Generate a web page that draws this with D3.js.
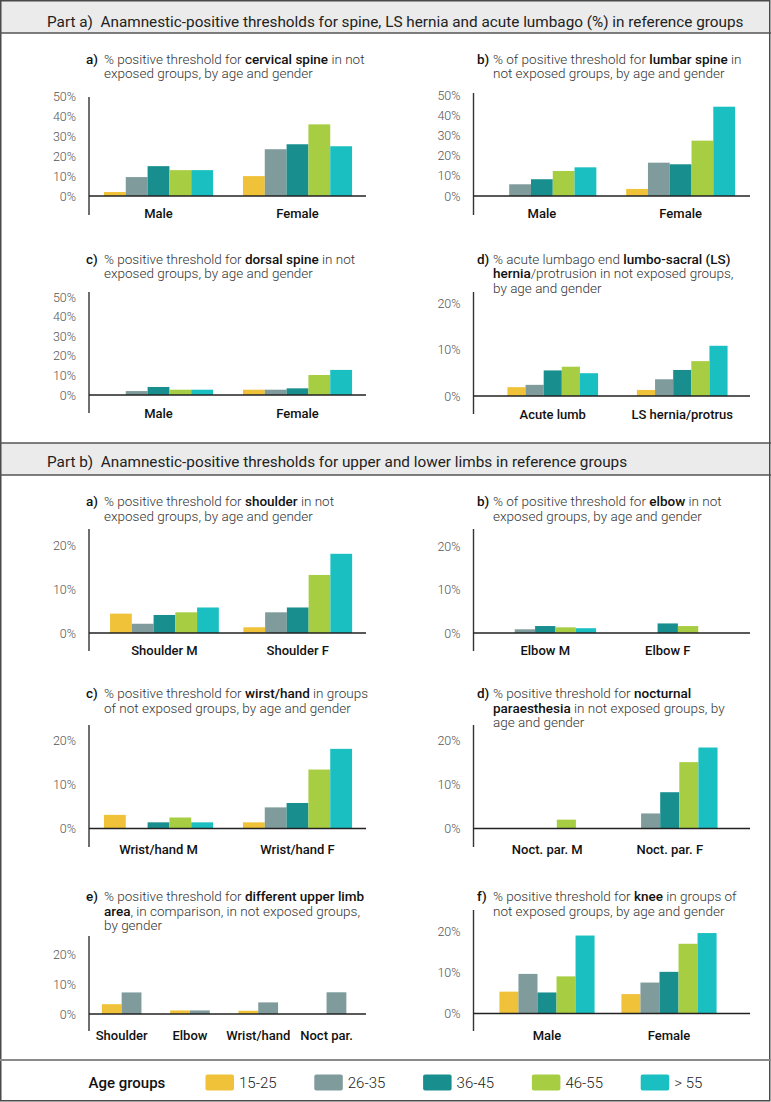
<!DOCTYPE html>
<html><head><meta charset="utf-8">
<script src="https://cdn.jsdelivr.net/npm/d3@7"></script>
<style>
body{margin:0;background:#fff}
svg{display:block;font-family:Roboto,"Noto Sans",sans-serif}
text{white-space:pre}
</style>
</head><body>
<svg id="chart" width="771" height="1102"></svg>
<script>
// ---------- DATA ----------
const ageGroups = ["15-25", "26-35", "36-45", "46-55", "> 55"];
const ageColors = ["#f0c23a", "#7f9b9b", "#188f8e", "#a7ce43", "#1abfc1"];

const spineTicks = [0, 10, 20, 30, 40, 50];
const limbTicks = [0, 10, 20];

const genderCats = ["Male", "Female"];
const cervicalVals = [[2, 9.5, 15, 13, 13], [10, 23.5, 26, 36, 25]];
const lumbarVals = [[0, 5.8, 8.3, 12.4, 14.2], [3.5, 16.5, 15.7, 27.4, 44.2]];
const dorsalVals = [[0, 2, 4.1, 2.7, 2.7], [2.7, 2.7, 3.4, 10.2, 12.8]];

const lumbagoCats = ["Acute lumb", "LS hernia/protrus"];
const lumbagoVals = [[1.9, 2.4, 5.5, 6.3, 4.9], [1.3, 3.6, 5.6, 7.5, 10.8]];

const shoulderCats = ["Shoulder M", "Shoulder F"];
const shoulderVals = [[4.4, 2.1, 4.1, 4.7, 5.8], [1.3, 4.7, 5.8, 13.2, 18]];

const elbowCats = ["Elbow M", "Elbow F"];
const elbowVals = [[0, 0.85, 1.6, 1.3, 1.1], [0, 0, 2.2, 1.6, 0]];

const wristCats = ["Wrist/hand M", "Wrist/hand F"];
const wristVals = [[3.1, 0, 1.4, 2.5, 1.4], [1.4, 4.8, 5.8, 13.4, 18.1]];

const noctCats = ["Noct. par. M", "Noct. par. F"];
const noctVals = [[0, 0, 0, 2, 0], [0, 3.4, 8.2, 15, 18.3]];

const upperCats = ["Shoulder", "Elbow", "Wrist/hand", "Noct par."];
const upperSeries = ["M", "F"];
const upperColors = [ageColors[0], ageColors[1]];
const upperVals = [[3.3, 7.25], [1.2, 1.2], [1.1, 3.9], [0, 7.3]];

const kneeVals = [[5.3, 9.6, 5.1, 9.0, 18.9], [4.7, 7.5, 10.1, 16.9, 19.5]];

const headerA = "Part a)  Anamnestic-positive thresholds for spine, LS hernia and acute lumbago (%) in reference groups";
const headerB = "Part b)  Anamnestic-positive thresholds for upper and lower limbs in reference groups";
const legendTitle = "Age groups";

// titles: lines of [text, bold]
const titleSpA = [[["% positive threshold for ", 0], ["cervical spine", 1], [" in not", 0]], [["exposed groups, by age and gender", 0]]];
const titleSpB = [[["% of positive threshold for ", 0], ["lumbar spine", 1], [" in", 0]], [["not exposed groups, by age and gender", 0]]];
const titleSpC = [[["% positive threshold for ", 0], ["dorsal spine", 1], [" in not", 0]], [["exposed groups, by age and gender", 0]]];
const titleSpD = [[["% acute lumbago end ", 0], ["lumbo-sacral (LS)", 1]], [["hernia", 1], ["/protrusion in not exposed groups,", 0]], [["by age and gender", 0]]];
const titleLbA = [[["% positive threshold for ", 0], ["shoulder", 1], [" in not", 0]], [["exposed groups, by age and gender", 0]]];
const titleLbB = [[["% of positive threshold for ", 0], ["elbow", 1], [" in not", 0]], [["exposed groups, by age and gender", 0]]];
const titleLbC = [[["% positive threshold for ", 0], ["wirst/hand", 1], [" in groups", 0]], [["of not exposed groups, by age and gender", 0]]];
const titleLbD = [[["% positive threshold for ", 0], ["nocturnal", 1]], [["paraesthesia", 1], [" in not exposed groups, by", 0]], [["age and gender", 0]]];
const titleLbE = [[["% positive threshold for ", 0], ["different upper limb", 1]], [["area", 1], [", in comparison, in not exposed groups,", 0]], [["by gender", 0]]];
const titleLbF = [[["% positive threshold for ", 0], ["knee", 1], [" in groups of", 0]], [["not exposed groups, by age and gender", 0]]];

// ---------- LAYOUT ----------
const L = {x0: 89, tag: 86, tx: 104, right: 366};
const R = {x0: 473.5, tag: 477, tx: 493, right: 750};

const panels = [
  {col: L, tagT: "a)", title: titleSpA, ty: 59, cats: genderCats, vals: cervicalVals, series: ageGroups, colors: ageColors,
   ticks: spineTicks, max: 50, band: [89, 367], frac: 0.785, y0: 196, yMax: 96.5, top: 97, bottom: 215, labY: 213},
  {col: R, tagT: "b)", title: titleSpB, ty: 59, cats: genderCats, vals: lumbarVals, series: ageGroups, colors: ageColors,
   ticks: spineTicks, max: 50, band: [472.5, 750], frac: 0.785, y0: 196, yMax: 95, top: 93, bottom: 215, labY: 213},
  {col: L, tagT: "c)", title: titleSpC, ty: 259, cats: genderCats, vals: dorsalVals, series: ageGroups, colors: ageColors,
   ticks: spineTicks, max: 50, band: [89, 367], frac: 0.785, y0: 395, yMax: 297, top: 292, bottom: 413, labY: 413},
  {col: R, tagT: "d)", title: titleSpD, ty: 259, cats: lumbagoCats, vals: lumbagoVals, series: ageGroups, colors: ageColors,
   ticks: limbTicks, max: 20, band: [488, 747], frac: 0.70, y0: 396, yMax: 303, top: 292, bottom: 414, labY: 414},
  {col: L, tagT: "a)", title: titleLbA, ty: 501.5, cats: shoulderCats, vals: shoulderVals, series: ageGroups, colors: ageColors,
   ticks: limbTicks, max: 20, band: [97.8, 364.4], frac: 0.816, y0: 633, yMax: 545, top: 529, bottom: 651, labY: 650.5},
  {col: R, tagT: "b)", title: titleLbB, ty: 501.5, cats: elbowCats, vals: elbowVals, series: ageGroups, colors: ageColors,
   ticks: limbTicks, max: 20, band: [484, 729], frac: 0.83, y0: 633, yMax: 546, top: 529, bottom: 651, labY: 650.5},
  {col: L, tagT: "c)", title: titleLbC, ty: 693.5, cats: wristCats, vals: wristVals, series: ageGroups, colors: ageColors,
   ticks: limbTicks, max: 20, band: [89, 367], frac: 0.785, y0: 828.5, yMax: 740.5, top: 725, bottom: 847, labY: 849},
  {col: R, tagT: "d)", title: titleLbD, ty: 693.5, cats: noctCats, vals: noctVals, series: ageGroups, colors: ageColors,
   ticks: limbTicks, max: 20, band: [486, 731], frac: 0.78, y0: 828.5, yMax: 740, top: 725, bottom: 847, labY: 849},
  {col: L, tagT: "e)", title: titleLbE, ty: 896.5, cats: upperCats, vals: upperVals, series: upperSeries, colors: upperColors,
   ticks: limbTicks, max: 20, band: [87.5, 360.7], frac: 0.58, y0: 1014, yMax: 954.5, top: 936, bottom: 1031, labY: 1035},
  {col: R, tagT: "f)", title: titleLbF, ty: 896.5, cats: genderCats, vals: kneeVals, series: ageGroups, colors: ageColors,
   ticks: limbTicks, max: 20, band: [486, 730], frac: 0.78, y0: 1013.5, yMax: 931, top: 910, bottom: 1031, labY: 1035}
];

const svg = d3.select("#chart");

// ---------- FRAME ----------
svg.append("rect").attr("x", 1).attr("y", 1).attr("width", 768.5).attr("height", 32).attr("fill", "#ebebeb");
svg.append("rect").attr("x", 1).attr("y", 443).attr("width", 768.5).attr("height", 32).attr("fill", "#ebebeb");
svg.append("rect").attr("x", 0.75).attr("y", 0.75).attr("width", 769).attr("height", 1100)
  .attr("fill", "none").attr("stroke", "#4a4a4a").attr("stroke-width", 1.5);
[33, 443, 475].forEach(yy => svg.append("line").attr("x1", 0).attr("x2", 771).attr("y1", yy).attr("y2", yy)
  .attr("stroke", "#555").attr("stroke-width", 1.4));
svg.append("line").attr("x1", 0).attr("x2", 771).attr("y1", 1060).attr("y2", 1060)
  .attr("stroke", "#8a8a8a").attr("stroke-width", 2);

svg.append("text").attr("x", 47).attr("y", 21.5).attr("dy", "0.35em").attr("font-size", 15.3)
  .attr("fill", "#222").text(headerA);
svg.append("text").attr("x", 47).attr("y", 461.5).attr("dy", "0.35em").attr("font-size", 15.3)
  .attr("fill", "#222").text(headerB);

// ---------- PANELS ----------
function drawPanel(p) {
  const g = svg.append("g");
  const x = d3.scaleBand().domain(p.cats).range(p.band).paddingInner(0).paddingOuter(0);
  const pad = x.bandwidth() * (1 - p.frac) / 2;
  const x1 = d3.scaleBand().domain(p.series).range([pad, x.bandwidth() - pad]).padding(0);
  const y = d3.scaleLinear().domain([0, p.max]).range([p.y0, p.yMax]);

  // title
  const lh = 14.5;
  g.append("text").attr("x", p.col.tag).attr("y", p.ty).attr("dy", "0.35em").attr("font-size", 13.5)
    .attr("font-weight", 500).attr("fill", "#111").text(p.tagT);
  p.title.forEach((line, i) => {
    const t = g.append("text").attr("x", p.col.tx).attr("y", p.ty + i * lh).attr("dy", "0.35em").attr("font-size", 13.5);
    line.forEach(seg => t.append("tspan").text(seg[0])
      .attr("font-weight", seg[1] ? 500 : 300).attr("fill", seg[1] ? "#111" : "#333"));
  });

  // bars
  g.append("g").selectAll("g").data(p.vals).join("g")
    .attr("transform", (d, i) => `translate(${x(p.cats[i])},0)`)
    .selectAll("rect").data(d => d.map((v, j) => ({v, s: p.series[j], c: p.colors[j]}))).join("rect")
    .attr("x", d => x1(d.s)).attr("width", x1.bandwidth())
    .attr("y", d => y(d.v)).attr("height", d => p.y0 - y(d.v)).attr("fill", d => d.c);

  // y axis tick labels
  const ya = d3.axisLeft(y).tickValues(p.ticks).tickSize(0).tickPadding(13).tickFormat(d => d + "%");
  g.append("g").attr("transform", `translate(${p.col.x0},0)`).call(ya)
    .call(a => a.select(".domain").remove())
    .selectAll("text").attr("font-family", "Roboto, sans-serif").attr("font-size", 12.5)
    .attr("font-weight", 300).attr("fill", "#555");

  // axis lines
  g.append("line").attr("x1", p.col.x0).attr("x2", p.col.x0).attr("y1", p.top).attr("y2", p.bottom)
    .attr("stroke", "#333").attr("stroke-width", 1.4);
  g.append("line").attr("x1", p.col.x0).attr("x2", p.col.right).attr("y1", p.y0).attr("y2", p.y0)
    .attr("stroke", "#222").attr("stroke-width", 1.4);

  // category labels
  const xa = d3.axisBottom(x).tickSize(0).tickPadding(0);
  g.append("g").attr("transform", `translate(0,${p.labY})`).call(xa)
    .call(a => a.select(".domain").remove())
    .selectAll("text").attr("dy", "0.35em").attr("font-family", "Roboto, sans-serif").attr("font-size", 13)
    .attr("font-weight", 500).attr("fill", "#111");
}
panels.forEach(drawPanel);

// ---------- LEGEND ----------
svg.append("text").attr("x", 88.5).attr("y", 1083).attr("dy", "0.35em").attr("font-size", 15)
  .attr("font-weight", 500).attr("fill", "#111").text(legendTitle);
const lx = d3.scaleBand().domain(ageGroups).range([205.5, 749.5]);
const lg = svg.append("g").selectAll("g").data(ageGroups).join("g")
  .attr("transform", d => `translate(${lx(d)},0)`);
lg.append("rect").attr("x", 0).attr("y", 1074.5).attr("width", 28.5).attr("height", 16).attr("rx", 2)
  .attr("fill", (d, i) => ageColors[i]);
lg.append("text").attr("x", 33.5).attr("y", 1083).attr("dy", "0.35em").attr("font-size", 15)
  .attr("font-weight", 300).attr("fill", "#222").text(d => d);
</script>
</body></html>
